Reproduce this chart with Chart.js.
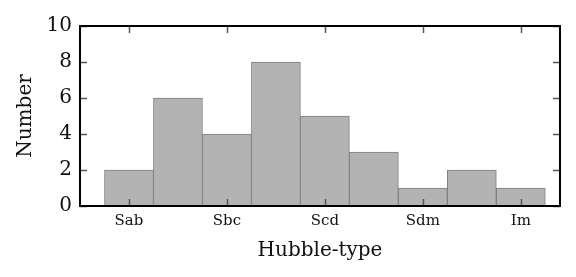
<!DOCTYPE html>
<html>
<head>
<meta charset="utf-8">
<script src="https://cdn.jsdelivr.net/npm/chart.js@4/dist/chart.umd.min.js"></script>
<style>
  html, body { margin: 0; padding: 0; background: #fff; }
  #wrap { width: 576px; height: 277px; }
</style>
</head>
<body>
<div id="wrap"><canvas id="hist"></canvas></div>
<script>
// Hubble-type histogram
var binPositions = [0, 1, 2, 3, 4, 5, 6, 7, 8];
var counts = [2, 6, 4, 8, 5, 3, 1, 2, 1];
var typeTicks = [0, 2, 4, 6, 8];
var typeLabels = ['Sab', 'Sbc', 'Scd', 'Sdm', 'Im'];
var yTicks = [0, 2, 4, 6, 8, 10];

var serif = '"DejaVu Serif", "Liberation Serif", serif';

// small inward tick marks on all four sides, plus the frame
var frameTicks = {
  id: 'frameTicks',
  afterDraw: function(chart) {
    var ctx = chart.ctx;
    var a = chart.chartArea;
    var xs = chart.scales.x, ys = chart.scales.y;
    ctx.save();
    ctx.strokeStyle = '#555';
    ctx.lineWidth = 1.5;
    ctx.beginPath();
    typeTicks.forEach(function(v) {
      var px = Math.round(xs.getPixelForValue(v)) + 0.5;
      ctx.moveTo(px, a.bottom); ctx.lineTo(px, a.bottom - 7);
      ctx.moveTo(px, a.top); ctx.lineTo(px, a.top + 7);
    });
    yTicks.forEach(function(v) {
      var py = Math.round(ys.getPixelForValue(v)) + 0.5;
      ctx.moveTo(a.left, py); ctx.lineTo(a.left + 7, py);
      ctx.moveTo(a.right, py); ctx.lineTo(a.right - 7, py);
    });
    ctx.stroke();
    ctx.strokeStyle = '#000';
    ctx.lineWidth = 2;
    ctx.strokeRect(a.left, a.top, a.right - a.left, a.bottom - a.top);
    ctx.restore();
  }
};

new Chart(document.getElementById('hist').getContext('2d'), {
  type: 'bar',
  data: {
    datasets: [{
      data: binPositions.map(function(x, i) { return { x: x, y: counts[i] }; }),
      backgroundColor: '#b3b3b3',
      borderColor: '#7f7f7f',
      borderWidth: 1,
      barPercentage: 1,
      categoryPercentage: 1
    }]
  },
  options: {
    responsive: true,
    maintainAspectRatio: false,
    animation: false,
    layout: { padding: { top: 26, right: 16, left: 0, bottom: 0 } },
    plugins: { legend: { display: false }, tooltip: { enabled: false } },
    scales: {
      x: {
        type: 'linear',
        offset: false,
        min: -1,
        max: 8.8,
        grid: { display: false, drawTicks: false, offset: false },
        border: { display: false },
        afterBuildTicks: function(scale) {
          scale.ticks = typeTicks.map(function(v) { return { value: v }; });
        },
        afterFit: function(scale) { scale.height = 71; },
        ticks: {
          padding: 6,
          color: '#111',
          font: { family: serif, size: 15 },
          callback: function(v) {
            var i = typeTicks.indexOf(v);
            return i >= 0 ? typeLabels[i] : '';
          }
        },
        title: {
          display: true,
          text: 'Hubble-type',
          color: '#111',
          font: { family: serif, size: 20 },
          padding: { top: 0, bottom: 14 }
        }
      },
      y: {
        min: 0,
        max: 10,
        grid: { display: false, drawTicks: false },
        border: { display: false },
        afterBuildTicks: function(scale) {
          scale.ticks = yTicks.map(function(v) { return { value: v }; });
        },
        afterFit: function(scale) { scale.width = 80; },
        ticks: {
          padding: 8,
          color: '#111',
          font: { family: serif, size: 20 }
        },
        title: {
          display: true,
          text: 'Number',
          color: '#111',
          font: { family: serif, size: 20 },
          padding: { top: 14, bottom: 0 }
        }
      }
    }
  },
  plugins: [frameTicks]
});
</script>
</body>
</html>
